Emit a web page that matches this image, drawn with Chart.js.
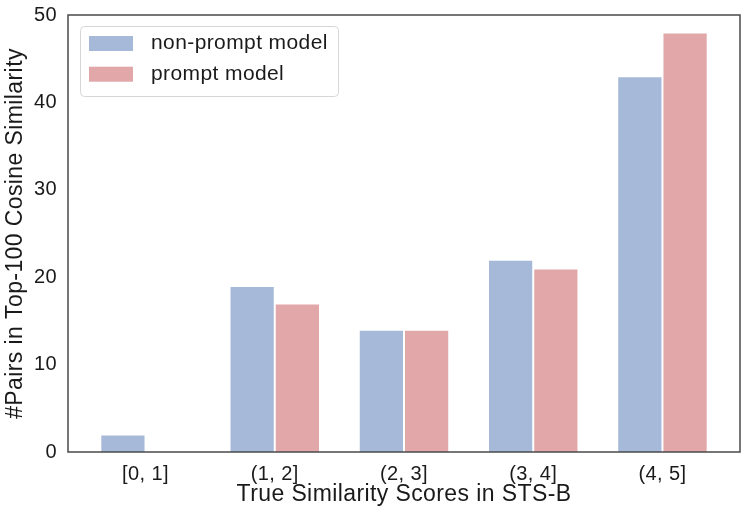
<!DOCTYPE html>
<html>
<head>
<meta charset="utf-8">
<script src="https://cdn.jsdelivr.net/npm/chart.js@4"></script>
<style>
  html, body { margin: 0; padding: 0; background: #fff; }
  #wrap { width: 748px; height: 516px; }
</style>
</head>
<body>
<div id="wrap"><canvas id="chart" width="748" height="516"></canvas></div>
<script>
// Bars per similarity bucket
const CATEGORIES = ["[0, 1]", "(1, 2]", "(2, 3]", "(3, 4]", "(4, 5]"];
const NON_PROMPT = [2, 19, 14, 22, 43];
const PROMPT = [0, 17, 14, 21, 48];
const Y_TICKS = [0, 10, 20, 30, 40, 50];

const FONT = "'Liberation Sans', Arial, Helvetica, sans-serif";
const BLUE = "#a6b9d8";
const PINK = "#e2a7a9";
const TEXT = "#1a1a1a";

// the original text is set a bit looser than plain Arial
const spacing = {
  id: "spacing",
  beforeUpdate(chart) { chart.ctx.letterSpacing = "0.4px"; },
  beforeDraw(chart) { chart.ctx.letterSpacing = "0.4px"; },
};

// frame around the plot area (seaborn white style)
const framePlugin = {
  id: "frame",
  afterDraw(chart) {
    const { ctx, chartArea: a } = chart;
    ctx.save();
    ctx.strokeStyle = "#4a4a4a";
    ctx.lineWidth = 1.5;
    ctx.strokeRect(a.left, a.top, a.right - a.left, a.bottom - a.top);
    ctx.restore();
  },
};

// matplotlib-like legend box in the upper left
const legendBox = {
  id: "legendBox",
  afterDraw(chart) {
    const { ctx, chartArea: a } = chart;
    const x = a.left + 12, y = a.top + 11, w = 258, h = 70;
    ctx.save();
    ctx.fillStyle = "rgba(255,255,255,0.8)";
    ctx.strokeStyle = "#d6d6d6";
    ctx.lineWidth = 1;
    ctx.beginPath();
    ctx.roundRect(x + 0.5, y + 0.5, w, h, 4);
    ctx.fill();
    ctx.stroke();
    chart.data.datasets.forEach((ds, i) => {
      const cy = y + 17.5 + i * 30.7;
      ctx.fillStyle = ds.backgroundColor;
      ctx.fillRect(x + 9, cy - 7.5, 44, 15);
      ctx.fillStyle = TEXT;
      ctx.font = "21px " + FONT;
      ctx.textBaseline = "alphabetic";
      ctx.fillText(ds.label, x + 71, cy + 5.6);
    });
    ctx.restore();
  },
};

new Chart(document.getElementById("chart"), {
  type: "bar",
  data: {
    datasets: [
      {
        label: "non-prompt model",
        data: NON_PROMPT.map((v, i) => ({ x: i, y: v })),
        backgroundColor: BLUE,
        borderColor: "#ffffff",
        borderWidth: 1,
      },
      {
        label: "prompt model",
        data: PROMPT.map((v, i) => ({ x: i, y: v })),
        backgroundColor: PINK,
        borderColor: "#ffffff",
        borderWidth: 1,
      },
    ],
  },
  options: {
    responsive: false,
    animation: false,
    layout: { padding: { left: 0, right: 8, top: 15, bottom: 0 } },
    datasets: { bar: { categoryPercentage: 0.7, barPercentage: 1.0 } },
    plugins: { legend: { display: false }, tooltip: { enabled: false } },
    scales: {
      x: {
        type: "linear",
        min: -0.6,
        max: 4.6,
        offset: false,
        grid: { display: false, drawTicks: false, offset: false },
        border: { display: false },
        afterBuildTicks: (s) => { s.ticks = CATEGORIES.map((_, i) => ({ value: i })); },
        afterFit: (s) => { s.height = 64; s.paddingLeft = 0; s.paddingRight = 0; },
        ticks: {
          padding: 10,
          color: TEXT,
          font: { family: FONT, size: 20 },
          callback: (v) => CATEGORIES[v],
          maxRotation: 0,
          autoSkip: false,
        },
        title: {
          display: true,
          text: "True Similarity Scores in STS-B",
          color: TEXT,
          font: { family: FONT, size: 23 },
          padding: { top: 0, bottom: 7.5 },
        },
      },
      y: {
        min: 0,
        max: 50,
        grid: { display: false, drawTicks: false },
        border: { display: false },
        afterBuildTicks: (s) => { s.ticks = Y_TICKS.map((v) => ({ value: v })); },
        afterFit: (s) => { s.width = 68; s.paddingTop = 0; s.paddingBottom = 0; },
        ticks: {
          padding: 11,
          color: TEXT,
          font: { family: FONT, size: 20 },
        },
        title: {
          display: true,
          text: "#Pairs in Top-100 Cosine Similarity",
          color: TEXT,
          font: { family: FONT, size: 23 },
          padding: { top: 2, bottom: 0 },
        },
      },
    },
  },
  plugins: [spacing, framePlugin, legendBox],
});
</script>
</body>
</html>
